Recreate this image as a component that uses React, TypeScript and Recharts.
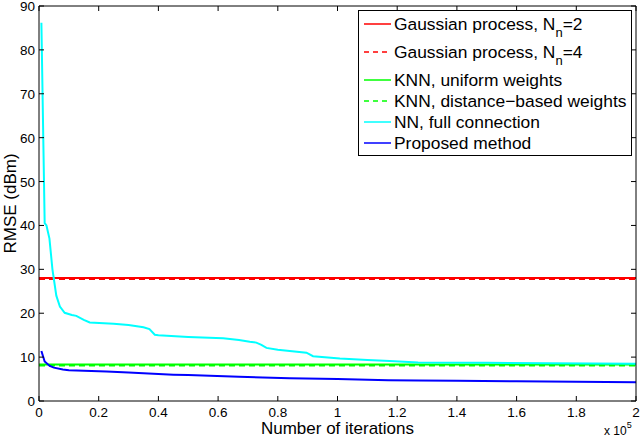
import React from 'react';
import { LineChart, Line, XAxis, YAxis, Legend } from 'recharts';

// x values are in units of 10^5 iterations
const xTicks = [0, 0.2, 0.4, 0.6, 0.8, 1, 1.2, 1.4, 1.6, 1.8, 2];
const yTicks = [0, 10, 20, 30, 40, 50, 60, 70, 80, 90];

const flatIterations = [0, 2];
const gp2Values = [28.0, 28.0];
const gp4Values = [27.8, 27.8];
const knnUniformValues = [8.3, 8.3];
const knnDistanceValues = [8.1, 8.1];

const nnIterations = [
  0.008, 0.019, 0.025, 0.035, 0.045, 0.058, 0.07, 0.086, 0.11, 0.125, 0.15, 0.17, 0.25, 0.3, 0.35,
  0.37, 0.388, 0.4, 0.5, 0.617, 0.67, 0.706, 0.728, 0.745, 0.762, 0.8, 0.896, 0.918, 1.008, 1.1,
  1.175, 1.27, 1.5, 1.7, 2.0,
];
const nnValues = [
  86.2, 40.5, 40.0, 37.0, 30.0, 24.0, 21.5, 20.1, 19.6, 19.4, 18.5, 17.9, 17.6, 17.3, 16.8,
  16.4, 15.1, 15.0, 14.6, 14.3, 13.9, 13.5, 13.3, 12.8, 12.1, 11.7, 11.0, 10.2, 9.7, 9.35,
  9.1, 8.8, 8.7, 8.6, 8.5,
];

const proposedIterations = [
  0.008, 0.019, 0.036, 0.05, 0.08, 0.1, 0.226, 0.3, 0.45, 0.5, 0.67, 0.84, 1.0, 1.17, 1.27, 1.4,
  1.6, 1.8, 2.0,
];
const proposedValues = [
  11.4, 9.0, 8.0, 7.6, 7.2, 7.0, 6.7, 6.5, 6.0, 5.9, 5.5, 5.2, 5.0, 4.75, 4.65, 4.6, 4.5, 4.4,
  4.3,
];

const seriesNames = [
  'Gaussian process, N_n=2',
  'Gaussian process, N_n=4',
  'KNN, uniform weights',
  'KNN, distance\u2212based weights',
  'NN, full connection',
  'Proposed method',
];
const seriesColors = ['#ff0000', '#ff0000', '#00ff00', '#00ff00', '#00ffff', '#0000ff'];
const seriesDashed = [false, true, false, true, false, false];

const zip = (xs: number[], ys: number[]) => xs.map((x, i) => ({ x, y: ys[i] }));

const seriesData = [
  zip(flatIterations, gp2Values),
  zip(flatIterations, gp4Values),
  zip(flatIterations, knnUniformValues),
  zip(flatIterations, knnDistanceValues),
  zip(nnIterations, nnValues),
  zip(proposedIterations, proposedValues),
];

const FONT = '"Liberation Sans", Arial, Helvetica, sans-serif';
const AXIS = '#000';
const TICK_FONT = 13.5;

const BottomTick = (props: any) => {
  const { x, y, payload } = props;
  return (
    <g>
      <line x1={x} y1={y} x2={x} y2={y - 5} stroke={AXIS} strokeWidth={1} />
      <text x={x} y={y + 15.5} textAnchor="middle" fontSize={TICK_FONT} fontFamily={FONT} fill="#000">
        {String(payload.value)}
      </text>
    </g>
  );
};
const TopTick = (props: any) => {
  const { x, y } = props;
  return <line x1={x} y1={y} x2={x} y2={y + 5} stroke={AXIS} strokeWidth={1} />;
};
const LeftTick = (props: any) => {
  const { x, y, payload } = props;
  return (
    <g>
      <line x1={x} y1={y} x2={x + 5} y2={y} stroke={AXIS} strokeWidth={1} />
      <text x={x - 4} y={y + 5} textAnchor="end" fontSize={TICK_FONT} fontFamily={FONT} fill="#000">
        {String(payload.value)}
      </text>
    </g>
  );
};
const RightTick = (props: any) => {
  const { x, y } = props;
  return <line x1={x} y1={y} x2={x - 5} y2={y} stroke={AXIS} strokeWidth={1} />;
};

const XLabel = (props: any) => {
  const { viewBox } = props;
  const cx = viewBox.x + viewBox.width / 2;
  const right = viewBox.x + viewBox.width;
  return (
    <g fontFamily={FONT} fill="#000">
      <text x={cx} y={viewBox.y + 33} textAnchor="middle" fontSize={17}>
        Number of iterations
      </text>
      <text x={right - 32} y={viewBox.y + 34} fontSize={12}>
        x 10
        <tspan dy={-7} fontSize={9}>
          5
        </tspan>
      </text>
    </g>
  );
};

const YLabel = (props: any) => {
  const { viewBox } = props;
  const cy = viewBox.y + viewBox.height / 2;
  const cx = viewBox.x + viewBox.width - 29;
  return (
    <text
      x={cx}
      y={cy}
      textAnchor="middle"
      dominantBaseline="central"
      transform={`rotate(-90, ${cx}, ${cy})`}
      fontSize={17}
      fontFamily={FONT}
      fill="#000"
    >
      RMSE (dBm)
    </text>
  );
};

const rowGap = (name: string) => (name.includes('_') ? 28 : 21);

const LegendBox = () => {
  const width = 274;
  const height = 146;
  let cy = 14;
  const rows = seriesNames.map((name, i) => {
    const y = cy;
    cy += rowGap(name);
    const parts = name.split('_');
    let label: React.ReactNode = name;
    if (parts.length > 1) {
      const sub = parts[1].charAt(0);
      const rest = parts[1].slice(1);
      label = (
        <>
          {parts[0]}
          <tspan dy={7} fontSize={13}>
            {sub}
          </tspan>
          <tspan dy={-7}>{rest}</tspan>
        </>
      );
    }
    return (
      <g key={name}>
        <line
          x1={6}
          y1={y}
          x2={33}
          y2={y}
          stroke={seriesColors[i]}
          strokeWidth={1.5}
          strokeDasharray={seriesDashed[i] ? '5 4' : undefined}
        />
        <text x={36} y={y + 6} fontSize={17.4} fontFamily={FONT} fill="#000">
          {label}
        </text>
      </g>
    );
  });
  return (
    <svg width={width} height={height} style={{ display: 'block' }}>
      <rect x={0.5} y={0.5} width={width - 1} height={height - 1} fill="#fff" stroke="#000" strokeWidth={1} />
      {rows}
    </svg>
  );
};

export default function App() {
  return (
    <div style={{ position: 'absolute', left: 0, top: 0, width: 640, height: 438, background: '#fff' }}>
      <LineChart width={640} height={438} margin={{ top: 5, right: 3, bottom: 36, left: 38 }}>
        <XAxis
          xAxisId={0}
          type="number"
          dataKey="x"
          domain={[0, 2]}
          ticks={xTicks}
          interval={0}
          height={1}
          tickSize={0}
          tickMargin={0}
          tickLine={false}
          axisLine={{ stroke: AXIS, strokeWidth: 1 }}
          tick={<BottomTick />}
          label={<XLabel />}
          allowDataOverflow
        />
        <XAxis
          xAxisId="top"
          orientation="top"
          type="number"
          dataKey="x"
          domain={[0, 2]}
          ticks={xTicks}
          interval={0}
          height={1}
          tickSize={0}
          tickMargin={0}
          tickLine={false}
          axisLine={{ stroke: AXIS, strokeWidth: 1 }}
          tick={<TopTick />}
          allowDataOverflow
        />
        <YAxis
          yAxisId={0}
          type="number"
          domain={[0, 90]}
          ticks={yTicks}
          interval={0}
          width={1}
          tickSize={0}
          tickMargin={0}
          tickLine={false}
          axisLine={{ stroke: AXIS, strokeWidth: 1 }}
          tick={<LeftTick />}
          label={<YLabel />}
          allowDataOverflow
        />
        <YAxis
          yAxisId="right"
          orientation="right"
          type="number"
          domain={[0, 90]}
          ticks={yTicks}
          interval={0}
          width={1}
          tickSize={0}
          tickMargin={0}
          tickLine={false}
          axisLine={{ stroke: AXIS, strokeWidth: 1 }}
          tick={<RightTick />}
          allowDataOverflow
        />
        {seriesData.map((d, i) => (
          <Line
            key={seriesNames[i]}
            xAxisId={0}
            yAxisId={0}
            data={d}
            dataKey="y"
            name={seriesNames[i]}
            type="linear"
            stroke={seriesColors[i]}
            strokeWidth={2}
            strokeDasharray={seriesDashed[i] ? '6 4' : undefined}
            dot={false}
            activeDot={false}
            isAnimationActive={false}
          />
        ))}
        <Legend
          layout="horizontal"
          verticalAlign="middle"
          align="center"
          content={<LegendBox />}
          wrapperStyle={{ position: 'absolute', left: 358, top: 10, width: 274, height: 146 }}
        />
      </LineChart>
    </div>
  );
}
